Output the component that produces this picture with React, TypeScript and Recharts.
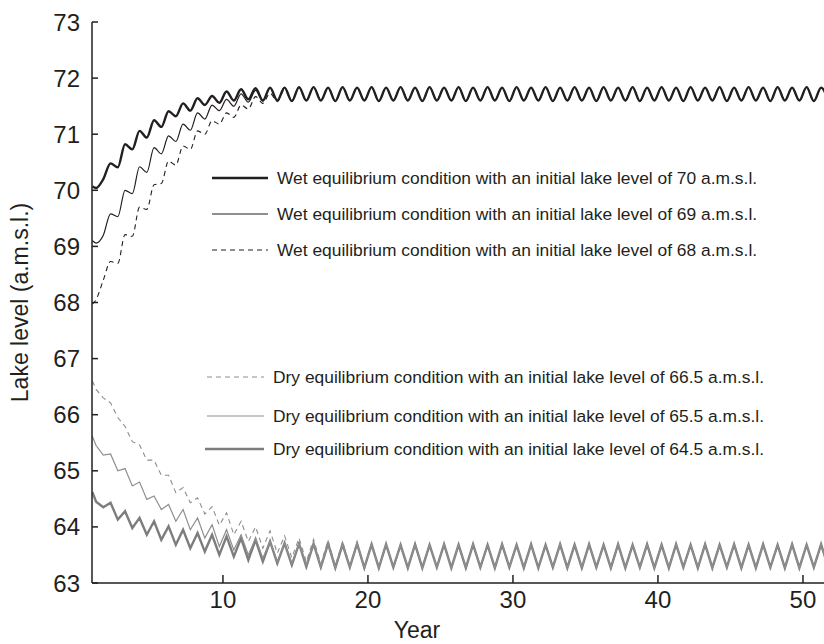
import { Legend, Line, LineChart, XAxis, YAxis } from "recharts";

// time axis: start point, then one sample near each seasonal peak / trough
const years = [1, ...Array.from({ length: 102 }, (_, i) => 1.25 + i * 0.5)];
const xTicks = [10, 20, 30, 40, 50];
const yTicks = [63, 64, 65, 66, 67, 68, 69, 70, 71, 72, 73];

// first ~15 years (t = 1, 1.25, 1.75 ... 15.75)
const wet70Start = [
  70.07, 70.04, 70.2, 70.48, 70.41, 70.82, 70.73, 71.06, 70.94, 71.25, 71.13,
  71.41, 71.32, 71.55, 71.42, 71.64, 71.52, 71.68, 71.56, 71.76, 71.6, 71.8,
  71.62, 71.82, 71.6, 71.83, 71.6, 71.83, 71.59, 71.84, 71.6,
];
const wet69Start = [
  69.1, 69.06, 69.2, 69.58, 69.53, 70.0, 69.94, 70.42, 70.32, 70.76, 70.65,
  70.97, 70.87, 71.18, 71.07, 71.38, 71.27, 71.52, 71.42, 71.62, 71.5, 71.72,
  71.57, 71.78, 71.59, 71.82, 71.6, 71.83, 71.59, 71.84, 71.6,
];
const wet68Start = [
  67.97, 68.05, 68.4, 68.73, 68.7, 69.21, 69.18, 69.7, 69.66, 70.1, 70.12,
  70.52, 70.45, 70.79, 70.73, 71.06, 71.0, 71.24, 71.18, 71.38, 71.3, 71.52,
  71.45, 71.67, 71.55, 71.73, 71.58, 71.8, 71.59, 71.83, 71.6,
];
// the 66.5 run stays a little above the others until about year 20
const dry665Start = [
  66.6, 66.45, 66.3, 66.21, 65.95, 65.79, 65.52, 65.46, 65.19, 65.19, 64.92,
  64.92, 64.61, 64.7, 64.43, 64.52, 64.23, 64.36, 64.03, 64.25, 63.86, 64.1,
  63.74, 64.0, 63.62, 63.93, 63.53, 63.84, 63.45, 63.8, 63.38,
  63.78, 63.34, 63.76, 63.31, 63.74, 63.3, 63.72, 63.29,
];
const dry655Start = [
  65.61, 65.45, 65.28, 65.3, 65.0, 65.04, 64.73, 64.8, 64.49, 64.55, 64.31,
  64.4, 64.1, 64.31, 63.95, 64.16, 63.8, 64.04, 63.65, 63.95, 63.59, 63.86,
  63.5, 63.8, 63.44, 63.74, 63.38, 63.71, 63.35, 63.7, 63.32,
];
const dry645Start = [
  64.62, 64.45, 64.35, 64.43, 64.13, 64.28, 63.98, 64.16, 63.86, 64.1, 63.77,
  64.01, 63.68, 63.95, 63.62, 63.89, 63.56, 63.86, 63.5, 63.83, 63.47, 63.8,
  63.41, 63.77, 63.38, 63.74, 63.35, 63.71, 63.32, 63.7, 63.29,
];

// t = 16.25 ... 51.75, all runs settle on the same cycle
const wetSteady = [
  71.84, 71.6, 71.83, 71.59, 71.84, 71.6, 71.83, 71.6, 71.84, 71.59, 71.83, 71.6,
  71.84, 71.6, 71.83, 71.59, 71.84, 71.6, 71.83, 71.6, 71.84, 71.59, 71.83, 71.6,
  71.84, 71.6, 71.83, 71.59, 71.84, 71.6, 71.83, 71.6, 71.84, 71.59, 71.83, 71.6,
  71.84, 71.6, 71.83, 71.59, 71.84, 71.6, 71.83, 71.6, 71.84, 71.59, 71.83, 71.6,
  71.84, 71.6, 71.83, 71.59, 71.84, 71.6, 71.83, 71.6, 71.84, 71.59, 71.83, 71.6,
  71.84, 71.6, 71.83, 71.59, 71.84, 71.6, 71.83, 71.6, 71.84, 71.59, 71.83, 71.6,
];
const drySteady = [
  63.7, 63.28, 63.7, 63.27, 63.69, 63.28, 63.7, 63.27, 63.69, 63.27, 63.69, 63.28,
  63.68, 63.27, 63.69, 63.27, 63.68, 63.28, 63.69, 63.27, 63.68, 63.27, 63.69, 63.28,
  63.68, 63.27, 63.69, 63.28, 63.68, 63.27, 63.69, 63.27, 63.68, 63.28, 63.69, 63.27,
  63.68, 63.27, 63.69, 63.28, 63.68, 63.27, 63.69, 63.27, 63.68, 63.28, 63.69, 63.27,
  63.68, 63.27, 63.69, 63.28, 63.68, 63.27, 63.69, 63.27, 63.68, 63.28, 63.69, 63.27,
  63.68, 63.27, 63.69, 63.28, 63.68, 63.27, 63.69, 63.27, 63.68, 63.28, 63.69, 63.27,
];

const series = [
  { key: "dry645", name: "Dry equilibrium condition with an initial lake level of 64.5 a.m.s.l.", values: [...dry645Start, ...drySteady], color: "#7d7d7d", width: 2.4, dash: undefined, curve: "linear" },
  { key: "dry655", name: "Dry equilibrium condition with an initial lake level of 65.5 a.m.s.l.", values: [...dry655Start, ...drySteady], color: "#8e8e8e", width: 1.2, dash: undefined, curve: "linear" },
  { key: "dry665", name: "Dry equilibrium condition with an initial lake level of 66.5 a.m.s.l.", values: [...dry665Start, ...drySteady.slice(8)], color: "#8e8e8e", width: 1.1, dash: "5 4", curve: "linear" },
  { key: "wet68", name: "Wet equilibrium condition with an initial lake level of 68 a.m.s.l.", values: [...wet68Start, ...wetSteady], color: "#231f20", width: 1.1, dash: "5 4", curve: "monotone" },
  { key: "wet69", name: "Wet equilibrium condition with an initial lake level of 69 a.m.s.l.", values: [...wet69Start, ...wetSteady], color: "#231f20", width: 1.2, dash: undefined, curve: "monotone" },
  { key: "wet70", name: "Wet equilibrium condition with an initial lake level of 70 a.m.s.l.", values: [...wet70Start, ...wetSteady], color: "#231f20", width: 2.4, dash: undefined, curve: "monotone" },
];

const data = years.map((t, i) => {
  const row: Record<string, number> = { t };
  series.forEach((s) => (row[s.key] = s.values[i]));
  return row;
});

const FONT = "'Liberation Sans', Arial, sans-serif";
const INK = "#231f20";

// legend rows: [series key, line x1, line x2, row y]
const legendRows: [string, number, number, number][] = [
  ["wet70", 212, 268, 178],
  ["wet69", 212, 268, 214],
  ["wet68", 212, 268, 250],
  ["dry665", 207, 264, 377],
  ["dry655", 207, 264, 416],
  ["dry645", 205, 264, 449],
];

function LegendBlock() {
  return (
    <svg width={824} height={644} style={{ pointerEvents: "none" }}>
      {legendRows.map(([key, x1, x2, y]) => {
        const s = series.find((d) => d.key === key)!;
        return (
          <g key={key}>
            <line x1={x1} x2={x2} y1={y} y2={y} stroke={s.color} strokeWidth={s.width} strokeDasharray={s.dash} />
            <text x={x2 + 9} y={y + 6} fontSize={17.4} fontFamily={FONT} fill={INK}>
              {s.name}
            </text>
          </g>
        );
      })}
    </svg>
  );
}

export default function App() {
  return (
    <div style={{ position: "absolute", left: 0, top: 0, background: "#fff" }}>
      <LineChart width={824} height={644} data={data} margin={{ top: 22, right: 0, bottom: 0, left: 0 }}>
        <XAxis
          dataKey="t"
          type="number"
          domain={[0.97, 51.45]}
          ticks={xTicks}
          allowDataOverflow
          height={61}
          tickSize={-8}
          tickMargin={16}
          stroke={INK}
          strokeWidth={1.5}
          tick={{ fontSize: 24, fontFamily: FONT, fill: INK }}
          label={{
            content: ({ viewBox }: any) => (
              <text x={viewBox.x + 325} y={viewBox.y + 55} textAnchor="middle" fontSize={23} fontFamily={FONT} fill={INK}>
                Year
              </text>
            ),
          }}
        />
        <XAxis xAxisId="top" orientation="top" dataKey="t" type="number" domain={[0.97, 51.45]} height={0} tick={false} tickLine={false} stroke={INK} strokeWidth={1.5} />
        <YAxis
          type="number"
          domain={[63, 73]}
          ticks={yTicks}
          allowDataOverflow
          width={92}
          tickSize={-6}
          tickMargin={18}
          stroke={INK}
          strokeWidth={1.5}
          tick={{ fontSize: 24, fontFamily: FONT, fill: INK }}
          label={{
            content: ({ viewBox }: any) => (
              <text
                transform={`translate(${viewBox.x + 28},${viewBox.y + viewBox.height / 2}) rotate(-90)`}
                textAnchor="middle"
                fontSize={23}
                fontFamily={FONT}
                fill={INK}
              >
                Lake level (a.m.s.l.)
              </text>
            ),
          }}
        />
        <YAxis yAxisId="right" orientation="right" type="number" domain={[63, 73]} ticks={yTicks} width={0} tickSize={-5} tick={false} stroke={INK} strokeWidth={1.5} />
        {series.map((s) => (
          <Line
            key={s.key}
            dataKey={s.key}
            name={s.name}
            type={s.curve as "linear" | "monotone"}
            stroke={s.color}
            strokeWidth={s.width}
            strokeDasharray={s.dash}
            dot={false}
            activeDot={false}
            isAnimationActive={false}
          />
        ))}
        <Legend
          layout="horizontal"
          verticalAlign="middle"
          align="center"
          wrapperStyle={{ left: 0, top: 0, width: 824, height: 644 }}
          content={() => <LegendBlock />}
        />
      </LineChart>
    </div>
  );
}
